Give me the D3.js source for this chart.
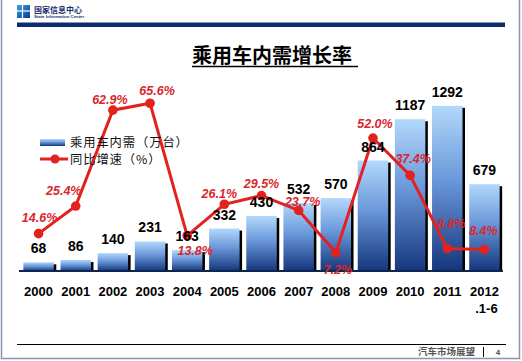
<!DOCTYPE html>
<html>
<head>
<meta charset="utf-8">
<script src="https://cdn.jsdelivr.net/npm/d3@7"></script>
<style>
  body { margin: 0; background: #fff; }
  text { font-family: "Liberation Sans", Arial, sans-serif; }
  .cjk { font-family: "Noto Sans CJK SC", sans-serif; }
</style>
</head>
<body>
<svg id="chart"></svg>
<script>
var svgWidth = 522, svgHeight = 361;

// data
var years = ["2000","2001","2002","2003","2004","2005","2006","2007","2008","2009","2010","2011","2012\n.1-6"];
var demand = [68, 86, 140, 231, 163, 332, 430, 532, 570, 864, 1187, 1292, 679];
var growth = [14.6, 25.4, 62.9, 65.6, 13.8, 26.1, 29.5, 23.7, 7.2, 52.0, 37.4, 8.8, 8.4];
var growthLabels = ["14.6%","25.4%","62.9%","65.6%","13.8%","26.1%","29.5%","23.7%","7.2%","52.0%","37.4%","8.8%","8.4%"];

// where each growth label sits relative to its point
var labelShift = [[1,-12],[-12,-11],[-3,-6],[7,-8],[8,19],[-5,-6],[0,-8],[4,-4],[2,21],[2,-10],[3,-12],[4,-20],[-1,-15]];

var svg = d3.select("#chart")
    .attr("width", svgWidth)
    .attr("height", svgHeight);

var defs = svg.append("defs");
var grad = defs.append("linearGradient")
    .attr("id", "barGrad")
    .attr("x1", 0).attr("y1", 0).attr("x2", 0).attr("y2", 1);
grad.append("stop").attr("offset", "0%").attr("stop-color", "#b2d8fb");
grad.append("stop").attr("offset", "45%").attr("stop-color", "#6a98da");
grad.append("stop").attr("offset", "100%").attr("stop-color", "#15367c");

var logoGrad = defs.append("linearGradient")
    .attr("id", "logoGrad")
    .attr("x1", 0).attr("y1", 0).attr("x2", 1).attr("y2", 1);
logoGrad.append("stop").attr("offset", "0%").attr("stop-color", "#3aa0e8");
logoGrad.append("stop").attr("offset", "100%").attr("stop-color", "#0b3a8c");

// page frame
svg.append("path")
    .attr("d", "M1.5,0 V358.5 H519.5 V0")
    .attr("fill", "none")
    .attr("stroke", "#8796ab")
    .attr("stroke-width", 1.5);

// header
svg.append("rect")
    .attr("x", 17).attr("y", 5).attr("width", 13).attr("height", 13)
    .attr("fill", "url(#logoGrad)");
svg.append("line")
    .attr("x1", 22.5).attr("x2", 22.5).attr("y1", 5).attr("y2", 18)
    .attr("stroke", "#fff").attr("stroke-width", 1.2);
svg.append("line")
    .attr("x1", 17).attr("x2", 30).attr("y1", 11).attr("y2", 11)
    .attr("stroke", "#fff").attr("stroke-width", 1.2);
svg.append("text").attr("class", "cjk")
    .attr("x", 34).attr("y", 12.5)
    .attr("font-size", 8).attr("font-weight", "bold")
    .attr("fill", "#1b2f6b")
    .text("国家信息中心");
svg.append("text")
    .attr("x", 34).attr("y", 18)
    .attr("font-size", 4.3).attr("font-weight", "bold")
    .attr("fill", "#1b2f6b")
    .text("State Information Center");

svg.append("rect")
    .attr("x", 17).attr("y", 22.5).attr("width", 488).attr("height", 4.5)
    .attr("fill", "#0b2d6c");

// title
svg.append("text").attr("class", "cjk")
    .attr("x", 192).attr("y", 63)
    .attr("font-size", 20).attr("font-weight", "bold")
    .attr("fill", "#000")
    .text("乘用车内需增长率");
svg.append("line")
    .attr("x1", 192).attr("x2", 358).attr("y1", 66.5).attr("y2", 66.5)
    .attr("stroke", "#000").attr("stroke-width", 1.3);

// scales
var x = d3.scaleBand()
    .domain(years)
    .range([20, 503])
    .paddingInner(0.18)
    .paddingOuter(0.09);

var yBar = d3.scaleLinear().domain([0, 1400]).range([271, 92]);
var yRate = d3.scaleLinear().domain([0, 70]).range([271, 92]);

// bars with a dark drop shadow on the right
var groups = svg.append("g").selectAll("g")
    .data(demand)
    .enter()
    .append("g");

groups.append("rect")
    .attr("x", (d,i) => x(years[i]) + 2.5)
    .attr("y", d => yBar(d) + 2)
    .attr("width", x.bandwidth())
    .attr("height", d => 271 - yBar(d) - 2)
    .attr("fill", "#000");

groups.append("rect")
    .attr("x", (d,i) => x(years[i]))
    .attr("y", d => yBar(d))
    .attr("width", x.bandwidth())
    .attr("height", d => 271 - yBar(d))
    .attr("fill", "url(#barGrad)");

// x axis
var axis = svg.append("g")
    .attr("transform", "translate(0,271)")
    .call(d3.axisBottom(x).tickSize(0).tickFormat(""));
axis.select(".domain")
    .attr("d", "M19,0H503")
    .attr("stroke", "#0d2550")
    .attr("stroke-width", 2);

axis.selectAll(".tick").each(function(d) {
  var t = d3.select(this).append("text")
      .attr("fill", "#000")
      .attr("font-size", 13)
      .attr("font-weight", "bold")
      .attr("text-anchor", "middle")
      .attr("y", 25);
  d.split("\n").forEach(function(part, k) {
    t.append("tspan")
      .attr("x", k ? 2 : 0)
      .attr("dy", k ? 17 : 0)
      .text(part);
  });
});

// growth line
var line = d3.line()
    .x((d,i) => x(years[i]) + x.bandwidth() / 2)
    .y(d => yRate(d));

svg.append("path")
    .datum(growth)
    .attr("d", line)
    .attr("fill", "none")
    .attr("stroke", "#e3211f")
    .attr("stroke-width", 3);

svg.append("g").selectAll("circle")
    .data(growth)
    .enter()
    .append("circle")
    .attr("cx", (d,i) => x(years[i]) + x.bandwidth() / 2)
    .attr("cy", d => yRate(d))
    .attr("r", 4.8)
    .attr("fill", "#e3211f");

// bar value labels
svg.append("g").selectAll("text")
    .data(demand)
    .enter()
    .append("text")
    .attr("x", (d,i) => x(years[i]) + x.bandwidth() / 2)
    .attr("y", d => yBar(d) - 9)
    .attr("text-anchor", "middle")
    .attr("font-size", 14)
    .attr("font-weight", "bold")
    .attr("fill", "#000")
    .text(d => d);

// growth labels
svg.append("g").selectAll("text")
    .data(growth)
    .enter()
    .append("text")
    .attr("x", (d,i) => x(years[i]) + x.bandwidth() / 2 + labelShift[i][0])
    .attr("y", (d,i) => yRate(d) + labelShift[i][1])
    .attr("text-anchor", "middle")
    .attr("font-size", 12.5)
    .attr("font-weight", "bold")
    .attr("font-style", "italic")
    .attr("fill", "#d9272d")
    .text((d,i) => growthLabels[i]);

// legend
var legend = svg.append("g");
legend.append("rect")
    .attr("x", 40).attr("y", 139).attr("width", 25).attr("height", 7)
    .attr("fill", "url(#barGrad)");
legend.append("text").attr("class", "cjk")
    .attr("x", 70).attr("y", 146.5)
    .attr("font-size", 12.3)
    .attr("letter-spacing", 0.9)
    .attr("fill", "#111")
    .text("乘用车内需（万台）");
legend.append("line")
    .attr("x1", 40).attr("x2", 68).attr("y1", 159).attr("y2", 159)
    .attr("stroke", "#e3211f").attr("stroke-width", 3);
legend.append("circle")
    .attr("cx", 55).attr("cy", 159).attr("r", 4.5)
    .attr("fill", "#e3211f");
legend.append("text").attr("class", "cjk")
    .attr("x", 70).attr("y", 163.5)
    .attr("font-size", 12.3)
    .attr("letter-spacing", 0.9)
    .attr("fill", "#111")
    .text("同比增速（%）");

// footer
svg.append("line")
    .attr("x1", 17).attr("x2", 506).attr("y1", 344.5).attr("y2", 344.5)
    .attr("stroke", "#000").attr("stroke-width", 1);
svg.append("text").attr("class", "cjk")
    .attr("x", 475).attr("y", 355)
    .attr("text-anchor", "end")
    .attr("font-size", 9.5).attr("font-weight", "bold")
    .attr("fill", "#555")
    .text("汽车市场展望");
svg.append("line")
    .attr("x1", 483.5).attr("x2", 483.5).attr("y1", 347).attr("y2", 357)
    .attr("stroke", "#000").attr("stroke-width", 1);
svg.append("text")
    .attr("x", 498).attr("y", 355)
    .attr("text-anchor", "middle")
    .attr("font-size", 8).attr("font-weight", "bold")
    .attr("fill", "#444")
    .text("4");
</script>
</body>
</html>
